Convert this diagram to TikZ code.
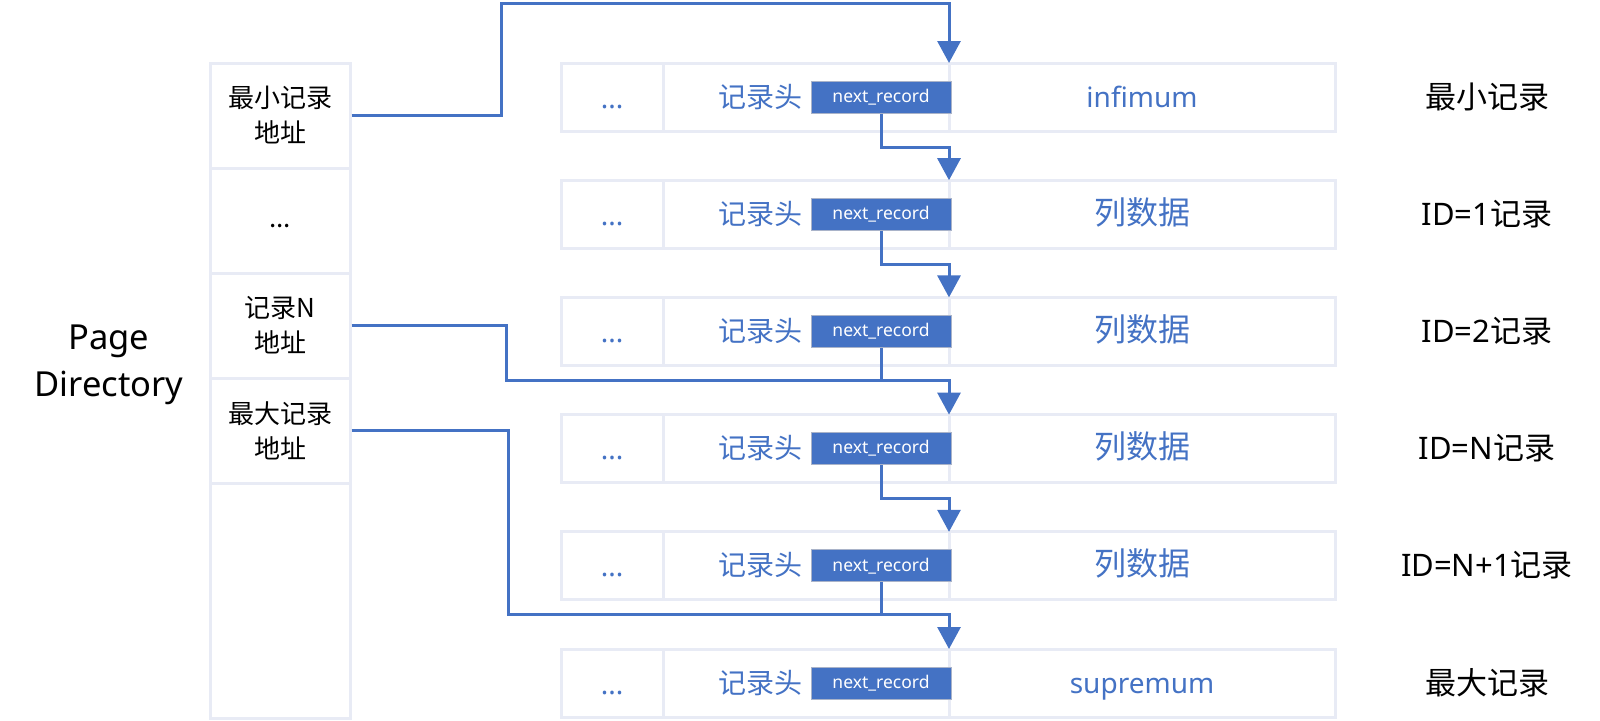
\documentclass[tikz,border=0pt]{standalone}
\usepackage{fontspec}
\setmainfont{Noto Sans}
\newfontfamily\cjk{Noto Sans CJK SC}
\usetikzlibrary{arrows.meta}
\definecolor{myblue}{HTML}{4472C4}
\definecolor{lightb}{HTML}{E8EBF5}
\definecolor{boxedge}{HTML}{A9B3C9}
\begin{document}
\begin{tikzpicture}[x=1pt,y=-1pt,
  cell/.style={draw=lightb, line width=3pt, minimum width=140pt, inner sep=0pt, align=center,
    font=\cjk\fontsize{26}{35}\selectfont},
  rowbox/.style={draw=lightb, line width=3pt, minimum width=774pt, minimum height=68pt, inner sep=0pt},
  divline/.style={draw=lightb, line width=3pt},
  nrbox/.style={fill=myblue, draw=boxedge, line width=1pt, minimum width=140pt, minimum height=32pt,
    inner sep=0pt, text=white, font=\fontsize{17.5}{20}\selectfont},
  bluetxt/.style={text=myblue, inner sep=0pt, anchor=base},
  lbl/.style={text=black, inner sep=0pt, anchor=base, font=\fontsize{31}{36}\selectfont},
  link/.style={draw=myblue, line width=3pt, line join=miter, -{Triangle[width=23pt,length=22pt]}},
  plain/.style={draw=myblue, line width=3pt}
]
\useasboundingbox (0,0) rectangle (1600,720);

% Page Directory label
\node[align=center, inner sep=0pt, font=\fontsize{34.5}{47}\selectfont] (pd) at (109,365) {Page\\Directory};

% left column cells
\node[cell, minimum height=105pt] (c1) at (280,115.5) {最小记录\\地址};
\node[cell, minimum height=105pt] (c2) at (280,220.5) {\strut ...};
\node[cell, minimum height=105pt] (c3) at (280,325.5) {记录N\\地址};
\node[cell, minimum height=105pt] (c4) at (280,430.5) {最大记录\\地址};
\node[cell, minimum height=235pt] (c5) at (280,600.5) {};

% record rows
\foreach \i/\cy/\data/\lab in {
  1/97/{\fontsize{28}{34}\selectfont infimum}/{\cjk 最小记录},
  2/214.2/{\cjk\fontsize{32}{38}\selectfont 列数据}/{ID=1\cjk 记录},
  3/331.4/{\cjk\fontsize{32}{38}\selectfont 列数据}/{ID=2\cjk 记录},
  4/448.6/{\cjk\fontsize{32}{38}\selectfont 列数据}/{ID=N\cjk 记录},
  5/565.8/{\cjk\fontsize{32}{38}\selectfont 列数据}/{ID=N+1\cjk 记录},
  6/683/{\fontsize{28}{34}\selectfont supremum}/{\cjk 最大记录}}{
  \node[rowbox] (r\i) at (948,\cy) {};
  \draw[divline] (663,\cy-34) -- (663,\cy+34);
  \draw[divline] (949,\cy-34) -- (949,\cy+34);
  \coordinate (t\i) at (949,\cy-34);
  \node[bluetxt, font=\fontsize{28}{34}\selectfont] (d\i) at (612,\cy+11) {...};
  \node[bluetxt, font=\cjk\fontsize{28}{34}\selectfont] (h\i) at (760,\cy+10) {记录头};
  \node[nrbox] (n\i) at (881,\cy) {next\_record};
  \node[bluetxt] (v\i) at (1142,\cy+10) {\data};
  \node[lbl] (l\i) at (1487,\cy+11) {\lab};
}

% corner coordinates
\coordinate (k1) at (501,3);
\coordinate (k3) at (506,380.4);
\coordinate (k4) at (508,614.8);

% connectors
\draw[link] (c1.east) -| (k1) -| (t1);
\draw[link] (n1.south) -- ++(0,34) -| (t2);
\draw[link] (n2.south) -- ++(0,34) -| (t3);
\draw[plain] (n3.south) -- (n3.south |- k3);
\draw[link] (c3.east) -| (k3) -| (t4);
\draw[link] (n4.south) -- ++(0,33) -| (t5);
\draw[plain] (n5.south) -- (n5.south |- k4);
\draw[link] (c4.east) -| (k4) -| (t6);
\end{tikzpicture}
\end{document}
